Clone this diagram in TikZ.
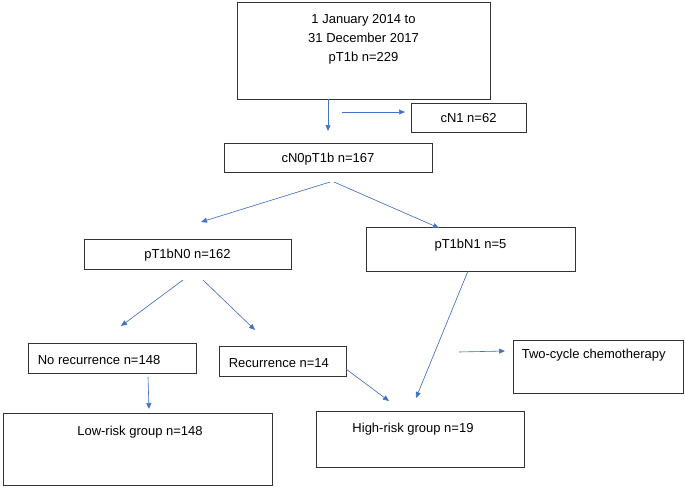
\documentclass[tikz,border=0pt]{standalone}
\usepackage{fontspec}
\setmainfont{Liberation Sans}
\usetikzlibrary{arrows.meta, positioning}
\definecolor{flowblue}{RGB}{68,114,196}

\begin{document}
\begin{tikzpicture}[x=1pt, y=-1pt,
        every node/.style={font=\fontsize{13}{19}\selectfont}, % texto general
        box/.style={draw=black!80, line width=0.8pt, rectangle, inner sep=0pt, text depth=0pt},
        txt/.style={inner sep=0pt, align=center},
        arrow_style/.style={-{Triangle[length=6pt,width=5pt]}, draw=flowblue, fill=flowblue, line width=0.6pt}
    ]
        \useasboundingbox (0,0) rectangle (685,488);

        % --- Cajas superiores ---
        \node[box, minimum width=253, minimum height=97,
              label={[txt, anchor=center, yshift=-38]north:{1 January 2014 to\\31 December 2017\\pT1b n=229}}] (start) at (363.5,50.5) {};
        \node[box, minimum width=115, minimum height=29] (cN1) at (468.5,117.5) {cN1 n=62};
        \node[box, minimum width=208, minimum height=29] (cN0) at (328,157.5) {cN0pT1b n=167};

        % --- Segundo nivel ---
        \node[box, minimum width=207, minimum height=30] (N0) at (187.5,254) {pT1bN0 n=162};
        \node[box, minimum width=209, minimum height=44,
              label={[txt, anchor=center, yshift=-18.5]north:{pT1bN1 n=5}}] (N1) at (470.5,249) {};

        % --- Recurrencia ---
        \node[box, minimum width=168, minimum height=30,
              label={[txt, anchor=west, xshift=10, yshift=-17.5]north west:{No recurrence n=148}}] (norec) at (112,358) {};
        \node[box, minimum width=127, minimum height=30,
              label={[txt, anchor=west, xshift=10, yshift=-17.5]north west:{Recurrence n=14}}] (rec) at (282.5,361) {};
        \node[box, minimum width=170, minimum height=53,
              label={[txt, anchor=west, xshift=9, yshift=-15.5]north west:{Two-cycle chemotherapy}}] (chemo) at (598,366.5) {};

        % --- Grupos de riesgo ---
        \node[box, minimum width=269, minimum height=72,
              label={[txt, anchor=center, xshift=2.5, yshift=-19.5]north:{Low-risk group n=148}}] (low) at (137.5,449) {};
        \node[box, minimum width=208, minimum height=56,
              label={[txt, anchor=center, xshift=-7, yshift=-18.5]north:{High-risk group n=19}}] (high) at (420,439) {};

        % --- Extremos de las flechas (sueltas, sin tocar las cajas) ---
        \coordinate (a1s) at (328,99);   \coordinate (a1e) at (328,131);
        \coordinate (a2s) at (342,112);  \coordinate (a2e) at (405,112);
        \coordinate (a3s) at (330,182);  \coordinate (a3e) at (201,222);
        \coordinate (a4s) at (334,182);  \coordinate (a4e) at (439,228);
        \coordinate (a5s) at (183,280);  \coordinate (a5e) at (121,326);
        \coordinate (a6s) at (203,280);  \coordinate (a6e) at (255,330);
        \coordinate (a7s) at (468,271);  \coordinate (a7e) at (416,398);
        \coordinate (a8s) at (346,369);  \coordinate (a8e) at (389,401);
        \coordinate (a9s) at (148,377);  \coordinate (a9e) at (149,409);
        \coordinate (a10s) at (459,352); \coordinate (a10e) at (505,351);

        % --- Flechas ---
        \foreach \i in {1,...,10}
            \draw[arrow_style] (a\i s) -- (a\i e);
\end{tikzpicture}
\end{document}
